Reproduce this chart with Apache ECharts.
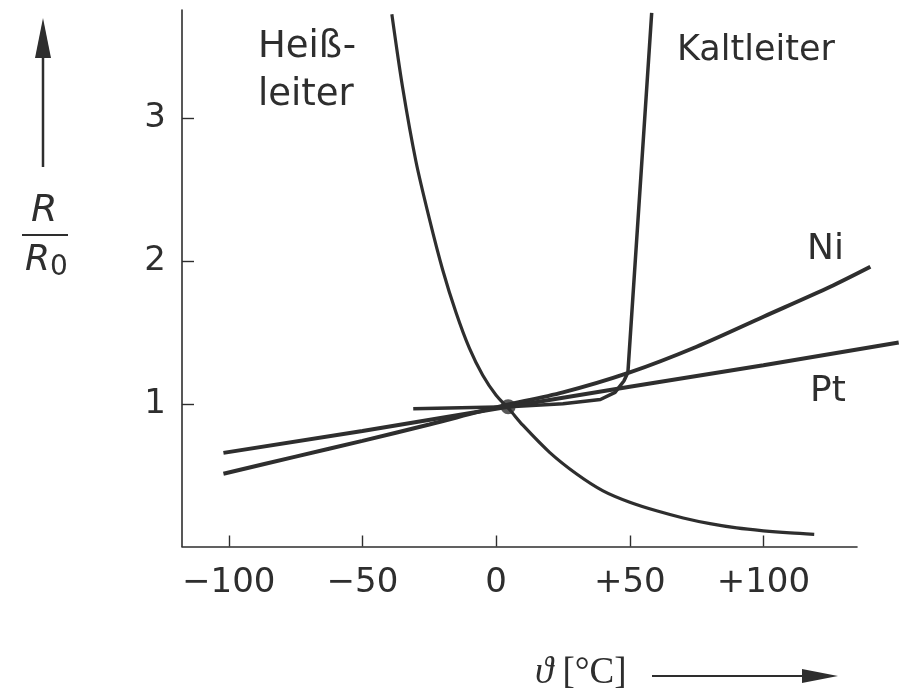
<!DOCTYPE html>
<html>
<head>
<meta charset="utf-8">
<script src="https://cdn.jsdelivr.net/npm/echarts@6/dist/echarts.min.js"></script>
<style>html,body{margin:0;padding:0;background:#fff}#c{width:902px;height:698px}</style>
</head>
<body>
<div id="c"></div>
<script>
// Tick values / labels
const xTickValues = [-100, -50, 0, 50, 100];
const xTickLabels = ['\u2212100', '\u221250', '0', '+50', '+100'];
const yTickValues = [1, 2, 3];
const yTickLabels = ['1', '2', '3'];

// Series (temperature °C, R/R0)
const heissleiter = [[-39,3.73],[-35,3.22],[-30,2.70],[-25,2.30],[-20,1.94],[-15,1.64],[-10,1.39],[-5,1.20],[0,1.06],[5,0.96],[10,0.85],[20,0.66],[30,0.51],[40,0.39],[50,0.31],[60,0.25],[70,0.20],[80,0.16],[90,0.13],[100,0.11],[110,0.095],[119,0.085]];
const kaltleiter = [[-31,0.965],[5,0.98],[25,1.0],[39,1.03],[44.5,1.08],[47.8,1.16],[49.3,1.22],[58.2,3.74]];
const nickel = [[-102,0.51],[-75,0.63],[-50,0.74],[-25,0.855],[0,0.975],[25,1.08],[50,1.22],[75,1.40],[100,1.61],[125,1.82],[140,1.96]];
const platin = [[-102,0.656],[-50,0.81],[0,0.965],[50,1.12],[100,1.27],[150.6,1.43]];
const centerPoint = [[4.5,0.98]];

const ink = '#2e2e2e';
const chart = echarts.init(document.getElementById('c'), null, {renderer:'canvas'});

const X_MIN = -117.5, X_MAX = 135, Y_MAX = 3.76;
// second (hidden) grid with the same scale, extended to the right so curves may run past the axis end
const X_MAX_EXT = X_MIN + (900 - 182) * (X_MAX - X_MIN) / (857 - 182);

function lineSeries(name, data, w, smooth) {
  return {name, type:'line', data, symbol:'none', clip:false, smooth:smooth,
    xAxisIndex:1, yAxisIndex:1, lineStyle:{color:ink, width:w}, z:3};
}

chart.setOption({
  backgroundColor:'#fff',
  animation:false,
  grid:[
    {left:182, right:45, top:10, bottom:151.5, containLabel:false},
    {left:182, right:2, top:10, bottom:151.5, containLabel:false}
  ],
  xAxis:[{
    gridIndex:0, type:'value', min:X_MIN, max:X_MAX,
    axisLine:{show:true, onZero:false, lineStyle:{color:ink, width:1.6}},
    axisTick:{show:true, inside:true, length:11, customValues:xTickValues, lineStyle:{color:ink, width:1.4}},
    axisLabel:{show:true, customValues:xTickValues, margin:20, color:ink, fontFamily:'DejaVu Sans', fontSize:34,
      formatter:(v)=>xTickLabels[xTickValues.indexOf(v)]},
    splitLine:{show:false}
  },{
    gridIndex:1, type:'value', min:X_MIN, max:X_MAX_EXT, show:false, splitLine:{show:false}
  }],
  yAxis:[{
    gridIndex:0, type:'value', min:0, max:Y_MAX,
    axisLine:{show:true, onZero:false, lineStyle:{color:ink, width:1.6}},
    axisTick:{show:true, inside:true, length:12, customValues:yTickValues, lineStyle:{color:ink, width:1.4}},
    axisLabel:{show:true, customValues:yTickValues, margin:16, color:ink, fontFamily:'DejaVu Sans', fontSize:34,
      formatter:(v)=>yTickLabels[yTickValues.indexOf(v)]},
    splitLine:{show:false}
  },{
    gridIndex:1, type:'value', min:0, max:Y_MAX, show:false, splitLine:{show:false}
  }],
  series:[
    lineSeries('Heißleiter', heissleiter, 3.2, 0.3),
    lineSeries('Kaltleiter', kaltleiter, 3.5, false),
    lineSeries('Ni', nickel, 4, 0.3),
    lineSeries('Pt', platin, 4, false),
    {type:'scatter', data:centerPoint, xAxisIndex:1, yAxisIndex:1, symbolSize:15, itemStyle:{color:ink}, z:4}
  ],
  graphic:[
    {type:'text', left:258, top:29, style:{text:'Heiß-', font:'37px "DejaVu Sans"', fill:ink}},
    {type:'text', left:258, top:77, style:{text:'leiter', font:'37px "DejaVu Sans"', fill:ink}},
    {type:'text', left:677, top:33, style:{text:'Kaltleiter', font:'35px "DejaVu Sans"', fill:ink}},
    {type:'text', left:807, top:232, style:{text:'Ni', font:'36px "DejaVu Sans"', fill:ink}},
    {type:'text', left:810, top:374, style:{text:'Pt', font:'36px "DejaVu Sans"', fill:ink}},
    // y label R / R0
    {type:'text', left:31, top:192, style:{text:'R', font:'italic 38px "DejaVu Sans"', fill:ink}},
    {type:'line', shape:{x1:22, y1:235, x2:68, y2:235}, style:{stroke:ink, lineWidth:2.2}},
    {type:'text', left:25, top:243, style:{text:'{r|R}{s|0}', fill:ink,
      rich:{r:{font:'italic 36px "DejaVu Sans"', fill:ink}, s:{font:'28px "DejaVu Sans"', fill:ink, padding:[14,0,0,0]}}}},
    // up arrow
    {type:'line', shape:{x1:43, y1:167, x2:43, y2:50}, style:{stroke:ink, lineWidth:2.5}},
    {type:'polygon', shape:{points:[[43,18],[35,58],[51,58]]}, style:{fill:ink}},
    // x label
    {type:'text', left:535, top:655, style:{text:'{a|\u03D1}{b| [°C]}', fill:ink,
      rich:{a:{font:'italic 37px "Liberation Serif"', fill:ink}, b:{font:'37px "Liberation Serif"', fill:ink}}}},
    {type:'line', shape:{x1:652, y1:676, x2:806, y2:676}, style:{stroke:ink, lineWidth:2.2}},
    {type:'polygon', shape:{points:[[838,676],[802,669],[802,683]]}, style:{fill:ink}}
  ]
});
</script>
</body>
</html>
